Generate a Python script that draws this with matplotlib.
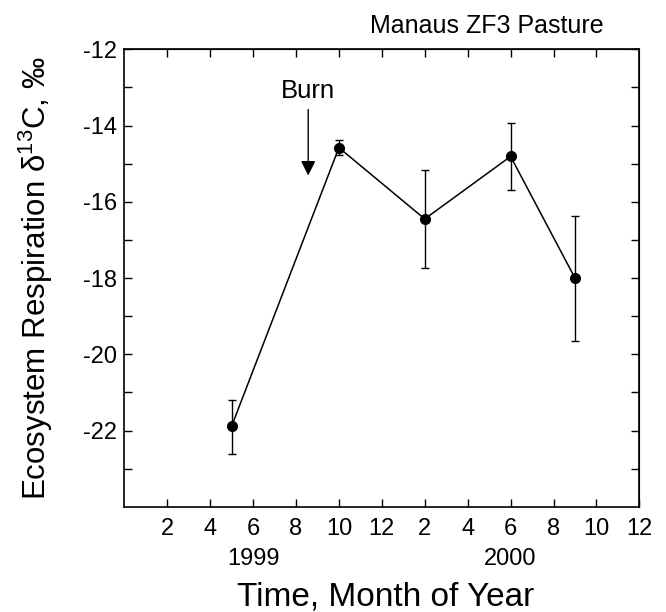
import numpy as np
import matplotlib
matplotlib.use('Agg')
import matplotlib.pyplot as plt

plt.rcParams['font.family'] = ['Liberation Sans', 'DejaVu Sans']
plt.rcParams['mathtext.fontset'] = 'custom'
plt.rcParams['mathtext.rm'] = 'Liberation Sans'
plt.rcParams['mathtext.default'] = 'regular'
plt.rcParams['axes.unicode_minus'] = False

# months counted from Jan 1999 (13 = Jan 2000)
months = [5, 10, 14, 18, 21]
d13c = [-21.89, -14.58, -16.45, -14.81, -18.0]
err_low = [-22.62, -14.77, -17.73, -15.70, -19.64]
err_high = [-21.21, -14.39, -15.17, -13.92, -16.38]

tick_pos = list(range(2, 25, 2))
tick_labels = ['2', '4', '6', '8', '10', '12', '2', '4', '6', '8', '10', '12']
years = ['1999', '2000']
year_pos = [6, 18]
burn_month = 8.57

fig = plt.figure(figsize=(6.66, 6.12), dpi=100)
ax = fig.add_axes([0.1866, 0.172, 0.7734, 0.7474])

y = np.array(d13c)
yerr = [y - np.array(err_low), np.array(err_high) - y]
ax.errorbar(months, y, yerr=yerr, color='black', lw=1.1, marker='o', ms=7,
            capsize=2.6, elinewidth=1.0, capthick=1.0)

ax.set_xlim(0, 24)
ax.set_ylim(-24, -12)
ax.set_xticks(tick_pos)
ax.set_xticklabels(tick_labels)
ax.set_yticks(np.arange(-22, -11, 2))
ax.set_yticks(np.arange(-23, -12, 2), minor=True)
ax.tick_params(axis='both', which='both', direction='in', length=6, width=1,
               labelsize=17)
ax.tick_params(axis='x', pad=8)
ax.tick_params(axis='y', pad=5)

# right and top axes with their own ticks
axr = ax.secondary_yaxis('right')
axr.set_yticks(np.arange(-23, -11, 1))
axr.tick_params(direction='in', length=6, width=1, labelright=False)
axt = ax.secondary_xaxis('top')
axt.set_xticks(range(2, 24, 2))
axt.tick_params(direction='in', length=6, width=1, labeltop=False)

for s in ax.spines.values():
    s.set_linewidth(1.2)

for yr, xp in zip(years, year_pos):
    ax.text(xp, -0.114, yr, transform=ax.get_xaxis_transform(), ha='center',
            va='center', fontsize=17)

fig.text(386 / 666, 1 - 605 / 612, 'Time, Month of Year', ha='center',
         va='baseline', fontsize=24)
ax.set_ylabel('Ecosystem Respiration δ$^{13}$C, ‰', fontsize=22.5, labelpad=20)

ax.annotate('', xy=(burn_month, -15.31), xytext=(burn_month, -13.58),
            arrowprops=dict(arrowstyle='-|>', color='black', lw=1.0,
                            mutation_scale=22, shrinkA=0, shrinkB=0))
ax.text(burn_month, -13.1, 'Burn', ha='center', va='center', fontsize=18.5)

fig.text(604 / 666, 1 - 33 / 612, 'Manaus ZF3 Pasture', ha='right',
         va='baseline', fontsize=18)

fig.savefig('out.png', dpi=100)
